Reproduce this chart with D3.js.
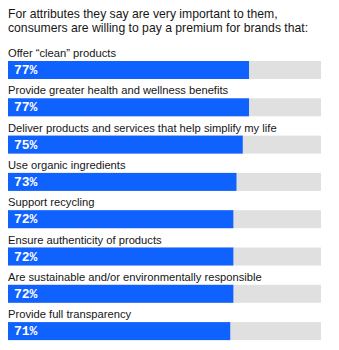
<!DOCTYPE html>
<html><head><meta charset="utf-8">
<script src="https://cdn.jsdelivr.net/npm/d3@7"></script>
<style>html,body{margin:0;padding:0;background:#fff;}svg{display:block;}</style>
</head><body>
<svg id="c" width="339" height="350"></svg>
<script>
const titleLines = ["For attributes they say are very important to them,", "consumers are willing to pay a premium for brands that:"];
const categories = ["Offer \u201cclean\u201d products","Provide greater health and wellness benefits","Deliver products and services that help simplify my life","Use organic ingredients","Support recycling","Ensure authenticity of products","Are sustainable and/or environmentally responsible","Provide full transparency"];
const values = [77,77,75,73,72,72,72,71];

const svg = d3.select("#c");
const font = "'Liberation Sans', Arial, sans-serif";
const x = d3.scaleLinear().domain([0,100]).range([8,321]);
const row = d3.scaleBand().domain(categories).range([42, 42+8*37.3]).paddingInner(0);
const barH = 18, barOff = 19;

svg.selectAll("text.title").data(titleLines).join("text").attr("class","title")
  .attr("x",8).attr("y",(d,i)=>17.5+i*14).attr("font-family",font).attr("font-size",12.2)
  .attr("fill","#161616").text(d=>d);

const g = svg.selectAll("g.row").data(categories).join("g").attr("class","row")
  .attr("transform",d=>`translate(0,${row(d)})`);
g.append("text").attr("x",8).attr("y",barOff-4).attr("font-family",font).attr("font-size",11.2)
  .attr("fill","#161616").text(d=>d);
g.append("rect").attr("x",x(0)).attr("y",barOff).attr("width",x(100)-x(0)).attr("height",barH).attr("fill","#e0e0e0");
g.append("rect").attr("x",x(0)).attr("y",barOff).attr("width",(d,i)=>x(values[i])-x(0)).attr("height",barH).attr("fill","#0f62fe");
g.append("text").attr("x",14).attr("y",barOff+13).attr("font-family","'Liberation Mono','DejaVu Sans Mono',monospace")
  .attr("font-weight","bold").attr("font-size",13).attr("fill","#fff").text((d,i)=>values[i]+"%");
</script>
</body></html>
